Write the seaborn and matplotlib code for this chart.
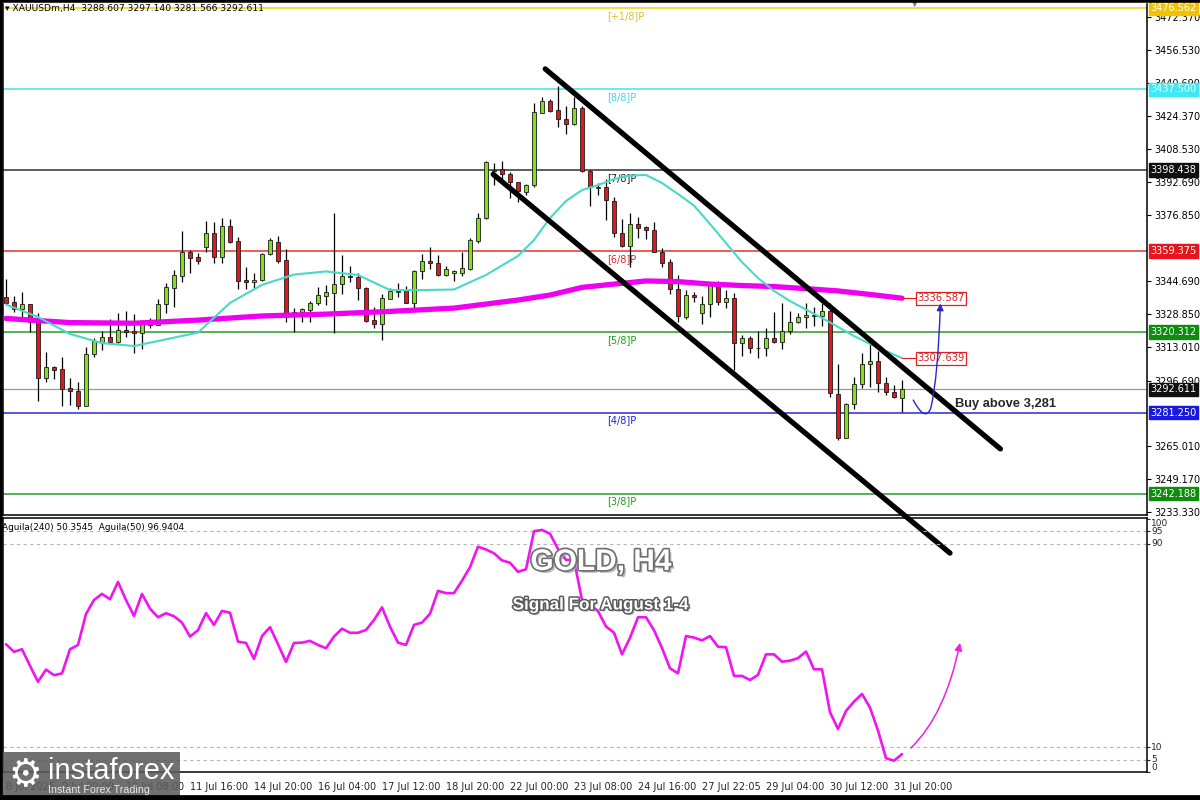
import numpy as np
import seaborn as sns
import matplotlib.pyplot as plt
import matplotlib.patheffects as pe
from matplotlib import transforms
from matplotlib.patches import FancyArrowPatch, Rectangle
from matplotlib.path import Path
from matplotlib.lines import Line2D

sns.set_style("white")
plt.rcParams['font.family'] = ['DejaVu Sans']

# ---------------------------------------------------------------
# XAUUSD H4 candles
# ---------------------------------------------------------------
opens = [3337.0, 3334.6, 3331.2, 3333.6, 3324.9, 3298.2, 3303.2, 3302.2, 3293.1, 3291.8,
         3284.7, 3309.5, 3315.6, 3317.8, 3315.6, 3321.1, 3320.6, 3319.6, 3324.9, 3323.8,
         3333.6, 3341.7, 3347.4, 3358.9, 3356.3, 3361.2, 3368.1, 3356.6, 3371.6, 3364.2,
         3345.4, 3344.3, 3345.4, 3357.9, 3363.9, 3354.9, 3328.8, 3330.1, 3331.0, 3334.1,
         3337.8, 3339.2, 3343.3, 3347.2, 3346.8, 3341.5, 3325.9, 3324.1, 3336.3, 3339.7,
         3340.4, 3334.4, 3349.9, 3354.5, 3353.4, 3347.8, 3348.9, 3348.9, 3350.8, 3364.4,
         3375.2, 3398.0, 3398.8, 3396.4, 3392.5, 3387.7, 3391.1, 3426.2, 3431.7, 3427.5,
         3423.0, 3420.6, 3428.3, 3398.0, 3389.8, 3390.1, 3383.5, 3367.9, 3361.9, 3372.3,
         3370.8, 3369.5, 3359.0, 3354.0, 3340.9, 3327.7, 3338.0, 3329.3, 3333.6, 3343.3,
         3334.9, 3336.5, 3314.8, 3317.2, 3312.4, 3312.4, 3317.2, 3315.3, 3320.7, 3324.9,
         3327.4, 3328.1, 3328.1, 3330.5, 3290.2, 3269.2, 3285.4, 3295.0, 3304.7, 3306.3,
         3295.5, 3291.1, 3288.607]
highs = [3345.9, 3337.8, 3339.4, 3334.0, 3329.6, 3310.6, 3304.0, 3308.0, 3297.9, 3296.1,
         3313.2, 3317.5, 3320.9, 3326.5, 3329.3, 3330.4, 3329.1, 3326.1, 3326.9, 3336.3,
         3343.9, 3350.0, 3368.9, 3359.7, 3358.6, 3374.0, 3373.2, 3375.2, 3374.8, 3366.3,
         3351.5, 3348.6, 3358.2, 3365.5, 3366.6, 3360.2, 3331.7, 3331.8, 3335.4, 3341.8,
         3342.8, 3377.9, 3357.4, 3352.1, 3348.6, 3341.8, 3332.5, 3338.6, 3341.4, 3343.8,
         3342.5, 3350.2, 3358.1, 3361.2, 3357.4, 3352.1, 3350.2, 3359.0, 3365.6, 3377.9,
         3402.8, 3401.9, 3402.8, 3397.7, 3392.8, 3391.6, 3430.7, 3433.6, 3432.6, 3439.1,
         3429.4, 3433.6, 3429.4, 3398.5, 3392.4, 3394.1, 3385.3, 3374.7, 3377.6, 3375.6,
         3371.6, 3373.5, 3360.7, 3355.5, 3347.8, 3340.5, 3339.4, 3337.6, 3344.1, 3345.0,
         3340.5, 3338.9, 3318.8, 3318.3, 3320.9, 3322.3, 3330.1, 3334.1, 3330.4, 3329.6,
         3334.1, 3332.5, 3334.4, 3334.1, 3304.7, 3285.8, 3298.4, 3310.0, 3314.8, 3311.2,
         3298.4, 3294.7, 3297.140]
lows = [3334.1, 3330.1, 3327.4, 3320.1, 3287.1, 3296.1, 3297.6, 3284.7, 3285.2, 3282.9,
        3284.4, 3308.0, 3311.6, 3315.1, 3314.8, 3318.0, 3310.0, 3312.1, 3322.0, 3323.5,
        3329.6, 3332.5, 3344.3, 3348.9, 3353.1, 3359.0, 3353.7, 3353.4, 3363.4, 3340.9,
        3340.9, 3341.0, 3344.9, 3357.4, 3353.4, 3325.2, 3320.1, 3324.9, 3324.9, 3333.4,
        3333.4, 3319.6, 3338.8, 3344.5, 3335.7, 3325.2, 3322.3, 3316.4, 3336.0, 3337.3,
        3334.1, 3331.7, 3346.0, 3350.8, 3347.3, 3347.2, 3344.9, 3347.4, 3350.2, 3363.1,
        3374.6, 3391.2, 3393.7, 3384.8, 3383.2, 3386.4, 3390.5, 3425.8, 3426.4, 3419.1,
        3415.9, 3420.2, 3397.7, 3381.2, 3386.4, 3374.3, 3366.0, 3361.4, 3351.5, 3365.5,
        3365.2, 3358.8, 3351.8, 3338.6, 3325.2, 3326.4, 3334.9, 3324.0, 3327.7, 3333.3,
        3332.0, 3301.9, 3308.8, 3310.0, 3307.8, 3308.8, 3314.8, 3311.9, 3319.2, 3324.5,
        3322.0, 3323.3, 3323.3, 3288.7, 3268.1, 3268.9, 3283.1, 3293.4, 3293.9, 3291.1,
        3289.8, 3288.2, 3281.566]
closes = [3334.4, 3331.2, 3333.9, 3324.9, 3298.2, 3303.2, 3302.1, 3292.9, 3291.9, 3284.7,
          3309.6, 3315.8, 3317.8, 3315.6, 3321.1, 3320.3, 3319.6, 3324.8, 3323.8, 3333.6,
          3341.8, 3347.6, 3358.9, 3356.1, 3354.5, 3368.1, 3356.6, 3371.6, 3363.9, 3345.0,
          3344.3, 3345.4, 3357.9, 3364.7, 3354.5, 3328.8, 3330.1, 3331.4, 3334.1, 3338.0,
          3339.4, 3343.3, 3347.2, 3346.7, 3341.4, 3325.7, 3324.1, 3336.5, 3340.1, 3340.1,
          3334.4, 3349.7, 3354.4, 3353.4, 3347.8, 3350.5, 3349.6, 3351.0, 3364.7, 3375.5,
          3402.2, 3398.7, 3396.4, 3392.8, 3388.3, 3391.1, 3426.4, 3431.7, 3427.0, 3423.0,
          3420.6, 3428.3, 3398.0, 3390.1, 3390.1, 3383.9, 3367.9, 3361.9, 3372.3, 3370.3,
          3369.5, 3359.0, 3353.7, 3340.9, 3328.0, 3338.0, 3337.0, 3333.6, 3343.3, 3334.9,
          3336.5, 3314.8, 3317.2, 3312.4, 3312.3, 3317.2, 3315.3, 3320.7, 3324.9, 3327.4,
          3328.5, 3328.2, 3330.5, 3290.7, 3269.2, 3285.5, 3295.0, 3304.7, 3306.3, 3295.5,
          3291.1, 3288.7, 3292.611]

# moving averages (value read at every few bars)
fast_ma_bar = [0, 4, 8, 12, 16, 20, 24, 28, 32, 36, 40, 44, 48, 52, 56, 60, 64, 66, 68, 70,
               72, 74, 76, 78, 80, 82, 84, 86, 88, 90, 92, 94, 96, 98, 100, 102, 104, 106,
               108, 110, 112]
fast_ma = [3333.5, 3327.5, 3319.3, 3314.9, 3313.5, 3316.7, 3320.0, 3334.3, 3343.0, 3348.0,
           3349.5, 3347.8, 3340.5, 3340.5, 3340.8, 3347.8, 3357.0, 3364.7, 3375.3, 3383.5,
           3388.8, 3391.2, 3394.1, 3395.8, 3396.1, 3392.2, 3386.9, 3381.3, 3372.4, 3363.2,
           3354.0, 3346.3, 3340.1, 3335.2, 3331.1, 3327.0, 3322.7, 3318.3, 3314.5, 3311.1,
           3307.639]
slow_ma_bar = [0, 8, 16, 24, 32, 40, 48, 56, 64, 68, 72, 76, 80, 84, 88, 92, 96, 100, 104,
               108, 112]
slow_ma = [3326.8, 3324.8, 3324.5, 3326.0, 3328.0, 3328.9, 3330.2, 3331.8, 3335.7, 3338.1,
           3341.8, 3343.4, 3344.9, 3344.6, 3343.4, 3342.7, 3342.2, 3341.2, 3340.1, 3338.4,
           3336.587]

# Aguila(50) oscillator, one value per bar
aguila = [50.5, 47.5, 48.5, 42.0, 35.7, 40.5, 38.3, 39.0, 48.5, 50.2,
          62.4, 67.9, 70.3, 68.2, 75.0, 67.9, 61.6, 70.3, 64.5, 61.1,
          62.7, 61.5, 59.0, 53.5, 56.0, 62.7, 58.1, 63.6, 62.9, 51.5,
          51.0, 44.7, 53.7, 57.2, 50.5, 43.5, 51.0, 51.1, 51.8, 50.2,
          48.9, 53.5, 56.6, 55.0, 55.0, 56.1, 60.0, 65.0, 57.4, 51.1,
          50.2, 58.1, 59.0, 62.5, 71.5, 70.6, 70.6, 75.5, 80.8, 88.9,
          87.8, 86.3, 83.5, 82.6, 79.0, 80.0, 95.0, 95.5, 94.0, 88.0,
          83.7, 83.7, 67.9, 66.2, 63.5, 57.5, 55.0, 46.5, 53.0, 61.1,
          61.1, 56.0, 49.0, 41.0, 39.0, 53.7, 53.1, 52.0, 53.7, 49.5,
          49.3, 38.0, 38.0, 36.4, 38.4, 46.5, 46.5, 43.6, 44.0, 45.0,
          47.6, 40.6, 40.6, 23.7, 17.1, 24.2, 27.9, 30.9, 25.5, 16.5,
          5.6, 4.6, 7.2]

# Murrey math levels
level_prices = [3476.562, 3437.500, 3398.438, 3359.375, 3320.312, 3281.250, 3242.188]
level_names = ["[+1/8]P", "[8/8]P", "[7/8]P", "[6/8]P", "[5/8]P", "[4/8]P", "[3/8]P"]
level_line_colors = ['#f0d020', '#40e0f0', '#303030', '#e83030', '#2a9a2a', '#2a2ad8', '#2a9a2a']
level_text_colors = ['#e0c020', '#40d8e8', '#202020', '#e02828', '#18a018', '#2020d0', '#18a018']
level_box_colors = ['#f2c200', '#3ee8f5', '#101010', '#e8141e', '#0f8c0f', '#1818e0', '#0f8c0f']
last_price = 3292.611

price_ticks = [3472.370, 3456.530, 3440.690, 3424.370, 3408.530, 3392.690, 3376.850,
               3344.690, 3328.850, 3313.010, 3296.690, 3265.010, 3249.170, 3233.330]

# channel drawn by the analyst (bar index, price)
channel_upper_bar = [67.4, 124.3]
channel_upper_price = [3447.3, 3263.8]
channel_lower_bar = [60.9, 118.0]
channel_lower_price = [3396.4, 3213.5]

time_bar = [0, 7, 15, 23, 31, 39, 47, 55, 63, 71, 79, 87, 95, 103, 111]
time_labels = ["8 Jul 2025", "9 Jul 00:00", "10 Jul 08:00", "11 Jul 16:00", "14 Jul 20:00",
               "16 Jul 04:00", "17 Jul 12:00", "18 Jul 20:00", "22 Jul 00:00", "23 Jul 08:00",
               "24 Jul 16:00", "27 Jul 22:05", "29 Jul 04:00", "30 Jul 12:00", "31 Jul 20:00"]

osc_levels = [95, 90, 10, 5]

# ---------------------------------------------------------------
W, H = 1200, 800
fig = plt.figure(figsize=(12, 8), dpi=100)
fig.patch.set_facecolor('white')
ax = fig.add_axes([3 / W, 1 - 515 / H, 1144 / W, 511 / H])
ax2 = fig.add_axes([3 / W, 1 - 772.4 / H, 1144 / W, (772.4 - 518) / H])
ax2.patch.set_alpha(0)

XMIN, XMAX = -0.375, 142.625
ax.set_xlim(XMIN, XMAX)
ax.set_ylim(3231.89, 3478.65)
ax2.set_xlim(XMIN, XMAX)
ax2.set_ylim(0, 100.2)

# levels
for lvl, col in zip(level_prices, level_line_colors):
    ax.axhline(lvl, color=col, lw=1.1, zorder=1)
ax.axhline(last_price, color='#9a9a9a', lw=0.9, zorder=1)
for lvl, name, col in zip(level_prices, level_names, level_text_colors):
    ax.annotate(name, (75.1, lvl), xytext=(0, -2), textcoords='offset points',
                ha='left', va='top', fontsize=7, color=col, zorder=2)

# candles
bars = np.arange(len(opens))
o = np.array(opens)
c = np.array(closes)
up = c >= o
body_lo = np.minimum(o, c)
body_h = np.maximum(np.abs(c - o), 0.45)
ax.vlines(bars, lows, highs, color='black', lw=0.9, zorder=3)
ax.bar(bars, body_h, bottom=body_lo, width=0.62,
       color=np.where(up, '#80e01c', '#e3161b'), edgecolor='#1a1a1a',
       linewidth=0.6, zorder=4)

# moving averages
sns.lineplot(x=slow_ma_bar, y=slow_ma, ax=ax, color='#f000f0', lw=3.8, zorder=5)
sns.lineplot(x=fast_ma_bar, y=fast_ma, ax=ax, color='#48d8c8', lw=1.5, zorder=5)

for val in (slow_ma[-1], fast_ma[-1]):
    ax.plot([bars[-1], 113.7], [val, val], color='#e02020', lw=0.8, zorder=5)
    ax.text(113.9, val, f"{val:.3f}", ha='left', va='center', fontsize=7.2,
            color='#e02020', zorder=9,
            bbox=dict(boxstyle='square,pad=0.15', fc='white', ec='#e02020', lw=0.9))

# channel
shadow = [pe.SimplePatchShadow(offset=(2, -2), shadow_rgbFace='#808080', alpha=0.5),
          pe.Normal()]
for xs, ys in ((channel_upper_bar, channel_upper_price),
               (channel_lower_bar, channel_lower_price)):
    ax.plot(xs, ys, color='black', lw=3.8, solid_capstyle='round', clip_on=False,
            zorder=8, path_effects=shadow)

# blue projection arrow
blue_path = Path([(113.4, 3287.4), (114.9, 3276.5), (115.6, 3283.5),
                  (116.5, 3298.0), (116.8, 3334.0)],
                 [Path.MOVETO, Path.CURVE3, Path.CURVE3, Path.CURVE3, Path.CURVE3])
ax.add_patch(FancyArrowPatch(path=blue_path, arrowstyle='-|>', mutation_scale=10,
                             color='#2828c8', lw=1.0, transform=ax.transData, zorder=9))
ax.text(118.6, 3285.5, "Buy above 3,281", fontsize=9.3, fontweight='bold',
        family=['Liberation Sans', 'DejaVu Sans'], ha='left', va='center', zorder=9)

# price axis
ax.yaxis.tick_right()
ax.set_yticks(price_ticks)
ax.set_yticklabels([f"{v:.3f}" for v in price_ticks])
ax.tick_params(axis='y', labelsize=7, length=3, pad=2, colors='black')
ax.set_xticks([])
trans = transforms.blended_transform_factory(ax.transAxes, ax.transData)
for lvl, col in zip(level_prices + [last_price], level_box_colors + ['#101010']):
    ax.text(1.0028, lvl, f"{lvl:.3f}", transform=trans, ha='left', va='center',
            fontsize=7, color='white', clip_on=False, zorder=10,
            bbox=dict(boxstyle='square,pad=0.17', fc=col, ec=col))
ax.spines['top'].set_visible(False)
for side in ('left', 'right', 'bottom'):
    ax.spines[side].set_color('black')
    ax.spines[side].set_linewidth(1.1)

# oscillator
for lv in osc_levels:
    ax2.axhline(lv, color='#b4b4b4', lw=0.8, ls=(0, (3, 3)), zorder=1)
sns.lineplot(x=bars, y=aguila, ax=ax2, color='#f014f0', lw=1.9, zorder=4)
osc_path = Path([(113.1, 9.6), (117.4, 22.6), (119.25, 51.0)],
                [Path.MOVETO, Path.CURVE3, Path.CURVE3])
ax2.add_patch(FancyArrowPatch(path=osc_path, arrowstyle='-|>', mutation_scale=11,
                              color='#f020e0', lw=1.1, transform=ax2.transData, zorder=6))
ax2.yaxis.tick_right()
ax2.set_yticks([100, 95, 90, 10, 5, 0])
ax2.set_yticklabels(['100', '95', '90', '10', '5', '0'])
ax2.tick_params(axis='y', labelsize=6.5, length=2, pad=1)
for lab, va in zip(ax2.get_yticklabels(), ['top', 'center', 'center', 'center', 'center', 'bottom']):
    lab.set_va(va)
ax2.set_xticks(time_bar)
ax2.set_xticklabels(time_labels, ha='left', fontsize=7)
ax2.tick_params(axis='x', length=4, pad=3)
ax2.set_xlabel('')
ax2.set_ylabel('')
ax.set_xlabel('')
ax.set_ylabel('')
for side in ('left', 'right', 'bottom', 'top'):
    ax2.spines[side].set_color('black')
    ax2.spines[side].set_linewidth(1.1)

# titles in the oscillator panel
fig.text(601 / W, 1 - 562 / H, "GOLD, H4", ha='center', va='center', fontsize=21.5,
         fontweight='bold', color='white', family=['Liberation Sans', 'DejaVu Sans'],
         zorder=12,
         path_effects=[pe.SimplePatchShadow(offset=(2, -2), shadow_rgbFace='#9a9a9a', alpha=0.7),
                       pe.Stroke(linewidth=2.4, foreground='#6e6e6e'), pe.Normal()])
fig.text(601 / W, 1 - 605 / H, "Signal For August 1-4", ha='center', va='center',
         fontsize=12.3, fontweight='bold', color='white',
         family=['Liberation Sans', 'DejaVu Sans'], zorder=12,
         path_effects=[pe.SimplePatchShadow(offset=(1.5, -1.5), shadow_rgbFace='#9a9a9a', alpha=0.7),
                       pe.Stroke(linewidth=2.2, foreground='#5a5a5a'), pe.Normal()])

# headers
fig.text(5 / W, 1 - 9 / H, "\u25be XAUUSDm,H4  3288.607 3297.140 3281.566 3292.611",
         fontsize=6.6, va='center', ha='left', color='black')
fig.text(2 / W, 1 - 527 / H, "Aguila(240) 50.3545  Aguila(50) 96.9404",
         fontsize=6.4, va='center', ha='left', color='black')
fig.text(915 / W, 1 - 3 / H, "\u25bc", fontsize=7, color='#66778a', ha='center', va='center')

# instaforex logo
fig.add_artist(Rectangle((0, 0), 180 / W, 48 / H, transform=fig.transFigure,
                         fc='#5c5c5c', ec='none', alpha=0.88, zorder=20))
fig.text(25 / W, 1 - 776 / H, "\u2699", fontsize=27, color='white', ha='center',
         va='center', zorder=21)
fig.text(48 / W, 1 - 771 / H, "instaforex", fontsize=21, color='white', ha='left',
         va='center', family=['Liberation Sans', 'DejaVu Sans'], zorder=21)
fig.text(48 / W, 1 - 790 / H, "Instant Forex Trading", fontsize=7.7, color='#e8e8e8',
         ha='left', va='center', family=['Liberation Sans', 'DejaVu Sans'], zorder=21)

# outer frame
fig.add_artist(Line2D([0, 0], [0, 1], transform=fig.transFigure, color='black', lw=4, zorder=30))
fig.add_artist(Line2D([0, 1], [1, 1], transform=fig.transFigure, color='black', lw=4, zorder=30))
fig.add_artist(Line2D([0, 1], [0, 0], transform=fig.transFigure, color='black', lw=7, zorder=30))

fig.savefig('out.png', dpi=100)
